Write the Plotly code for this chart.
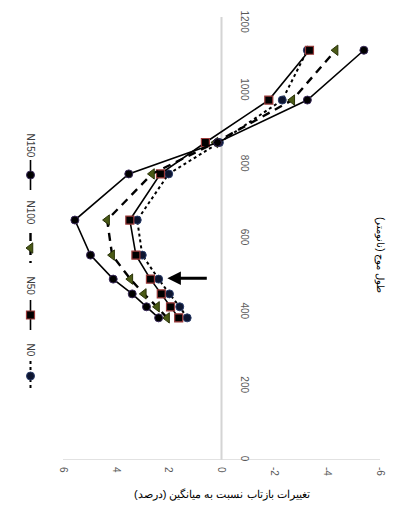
import plotly.graph_objects as go

W, H = 408, 518

# ---- data ----
wavelength = [385, 415, 450, 490, 555, 650, 775, 860, 975, 1110]
n0 = [1.30, 1.58, 1.97, 2.38, 3.00, 3.19, 2.00, 0.08, -2.30, -3.25]
n50 = [1.62, 1.93, 2.28, 2.69, 3.24, 3.47, 2.31, 0.61, -1.79, -3.33]
n100 = [2.06, 2.44, 2.94, 3.45, 4.14, 4.33, 2.63, 0.23, -2.68, -4.32]
n150 = [2.38, 2.84, 3.38, 4.10, 4.96, 5.55, 3.51, 0.15, -3.25, -5.39]

series_names = ["N0", "N50", "N100", "N150"]
value_ticks = [6, 4, 2, 0, -2, -4, -6]
value_tick_labels = ["6", "4", "2", "0", "-2", "-4", "-6"]
wl_ticks = [0, 200, 400, 600, 800, 1000]
wl_top_label = "1200"
wl_max = 1200

x_title = "تغییرات بازتاب نسبت به میانگین (درصد)"
y_title = "طول موج (نانومتر)"

# ---- styles ----
styles = {
    "N0": dict(line=dict(color="black", width=2, dash="dot"),
               marker=dict(symbol="circle", size=8, color="#0d1530", line=dict(color="#2b3d6b", width=1))),
    "N50": dict(line=dict(color="black", width=1.6, dash="solid"),
                marker=dict(symbol="square", size=8, color="black", line=dict(color="#9b3a3a", width=1.2))),
    "N100": dict(line=dict(color="black", width=2.4, dash="8px,6px"),
                 marker=dict(symbol="triangle-left", size=9, color="#4a5a16", line=dict(color="#2a3308", width=1))),
    "N150": dict(line=dict(color="black", width=1.6, dash="solid"),
                 marker=dict(symbol="circle", size=8, color="black", line=dict(color="#3a2a5a", width=1))),
}
values = {"N0": n0, "N50": n50, "N100": n100, "N150": n150}

# plot area in pixels (figure coordinates)
px_l, px_r, px_t, px_b = 55, 372, 9, 452
xd = [px_l / W, px_r / W]
yd = [(H - px_b) / H, (H - px_t) / H]

fig = go.Figure()

# reference lines (zero value line and wavelength-0 baseline)
fig.add_shape(type="line", xref="x", yref="y", x0=0, x1=0, y0=0, y1=wl_max,
              line=dict(color="#d4d4d4", width=2), layer="below")
fig.add_shape(type="line", xref="x", yref="y", x0=6, x1=-6, y0=0, y1=0,
              line=dict(color="#d9d9d9", width=1.5), layer="below")

for name in series_names:
    st = styles[name]
    fig.add_trace(go.Scatter(x=values[name], y=wavelength, mode="lines+markers",
                             name=name, line=st["line"], marker=st["marker"],
                             showlegend=False, xaxis="x", yaxis="y"))

# ---- manual rotated legend (helper pixel axes in the left strip) ----
LW = 45
LX = 22.5
legend_pos = {"N150": (137, 167), "N100": (204, 240), "N50": (278, 307), "N0": (342, 368)}
for name in series_names:
    st = styles[name]
    ty, my = legend_pos[name]
    fig.add_trace(go.Scatter(x=[LX, LX, LX], y=[my - 15, my, my + 15], mode="lines",
                             line=st["line"], showlegend=False, hoverinfo="skip",
                             xaxis="x2", yaxis="y2"))
    fig.add_trace(go.Scatter(x=[LX], y=[my], mode="markers", marker=st["marker"],
                             showlegend=False, hoverinfo="skip", xaxis="x2", yaxis="y2"))
    fig.add_annotation(x=LX, y=ty, xref="x2", yref="y2", text=name, textangle=90,
                       showarrow=False, font=dict(size=10, color="#404040"))

# arrow
fig.add_annotation(x=2.05, y=492, ax=0.5, ay=492, xref="x", yref="y", axref="x", ayref="y",
                   text="", showarrow=True, arrowhead=2, arrowsize=0.9, arrowwidth=3, arrowcolor="black")

# top wavelength label kept inside the page
fig.add_annotation(x=236 / W, y=1, xref="paper", yref="paper", yanchor="top",
                   text=wl_top_label, textangle=90, showarrow=False,
                   font=dict(size=10, color="#595959"))

# axis titles
fig.add_annotation(x=(px_l + px_r) / 2 / W, y=(H - 495) / H, xref="paper", yref="paper",
                   text=x_title, showarrow=False, font=dict(size=11, color="black"))
fig.add_annotation(x=380 / W, y=(H - 247) / H, xref="paper", yref="paper",
                   text=y_title, textangle=90, showarrow=False, font=dict(size=10, color="black"))

fig.update_layout(
    width=W, height=H, margin=dict(l=0, r=0, t=0, b=0, autoexpand=False),
    paper_bgcolor="white", plot_bgcolor="rgba(0,0,0,0)",
    font=dict(family="Liberation Sans, Arial, sans-serif"),
    xaxis=dict(domain=xd, range=[6, -6], tickvals=value_ticks, ticktext=value_tick_labels,
               tickangle=90, showgrid=False, showline=False, automargin=False, zeroline=False,
               ticks="", anchor="y", ticklabeloverflow="allow",
               tickfont=dict(size=10, color="#595959"), ticklabelstandoff=6),
    yaxis=dict(domain=yd, range=[0, wl_max], tickvals=wl_ticks, tickangle=90, automargin=False,
               showgrid=False, showline=False, zeroline=False,
               anchor="free", position=(xd[0] + xd[1]) / 2, side="right", ticks="",
               ticklabeloverflow="allow",
               tickfont=dict(size=10, color="#595959"), ticklabelstandoff=16),
    xaxis2=dict(domain=[0, LW / W], range=[0, LW], visible=False, anchor="y2", automargin=False),
    yaxis2=dict(domain=[0, 1], range=[H, 0], visible=False, anchor="x2", automargin=False),
)

fig.write_html("out.html")
